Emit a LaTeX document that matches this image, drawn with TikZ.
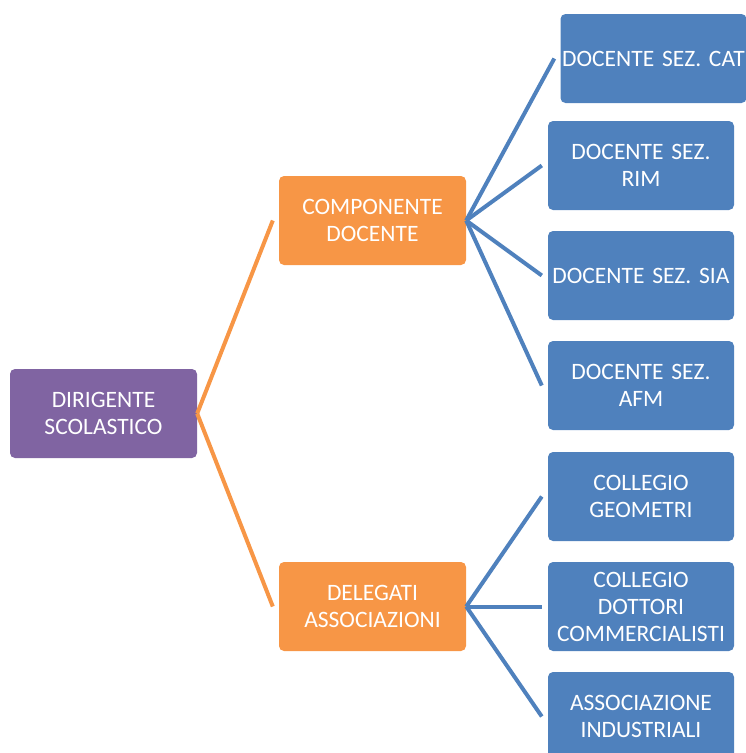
\documentclass[tikz,border=0pt]{standalone}
\usepackage{fontspec}
\setmainfont{Carlito}
\usetikzlibrary{positioning}
\definecolor{headpurple}{HTML}{8064A2}
\definecolor{grouporange}{HTML}{F79646}
\definecolor{memberblue}{HTML}{4F81BD}

\begin{document}
\begin{tikzpicture}[
		x=1pt, y=-1pt,
		box/.style={rectangle, rounded corners=5pt, minimum width=187pt, minimum height=89pt, text width=184pt, align=center, text=white, font=\fontsize{23.5}{27}\selectfont, inner sep=0pt},
		head/.style={box, fill=headpurple},
		group/.style={box, fill=grouporange},
		member/.style={box, fill=memberblue, minimum width=186pt},
		link/.style={line width=4pt},
	]
	\useasboundingbox (0, 0) rectangle (745, 753);

	\node[head] (dirigente) at (103.5, 413.5) {DIRIGENTE \\ SCOLASTICO};
	\node[group] (componente) at (372.5, 220.5) {COMPONENTE \\ DOCENTE};
	\node[group] (delegati) at (372.5, 606.5) {DELEGATI \\ ASSOCIAZIONI};

	\node[member] (cat) at (653.5, 58.5) {DOCENTE SEZ. CAT};
	\node[member] (rim) at (641, 165.5) {DOCENTE SEZ. \\ RIM};
	\node[member] (sia) at (641, 275.5) {DOCENTE SEZ. SIA};
	\node[member] (afm) at (641, 385.5) {DOCENTE SEZ. \\ AFM};
	\node[member] (geometri) at (641, 496.5) {COLLEGIO \\ GEOMETRI};
	\node[member] (dottori) at (641, 606.5) {COLLEGIO \\ DOTTORI \\ COMMERCIALISTI};
	\node[member] (industriali) at (641, 716.5) {ASSOCIAZIONE \\ INDUSTRIALI};

	\draw[link, grouporange] (dirigente.east) -- ([xshift=-6pt]componente.west);
	\draw[link, grouporange] (dirigente.east) -- ([xshift=-6pt]delegati.west);

	\draw[link, memberblue] (componente.east) -- ([xshift=-6pt]cat.west);
	\draw[link, memberblue] (componente.east) -- ([xshift=-6pt]rim.west);
	\draw[link, memberblue] (componente.east) -- ([xshift=-6pt]sia.west);
	\draw[link, memberblue] (componente.east) -- ([xshift=-6pt]afm.west);

	\draw[link, memberblue] (delegati.east) -- ([xshift=-6pt]geometri.west);
	\draw[link, memberblue] (delegati.east) -- ([xshift=-6pt]dottori.west);
	\draw[link, memberblue] (delegati.east) -- ([xshift=-6pt]industriali.west);
\end{tikzpicture}
\end{document}
